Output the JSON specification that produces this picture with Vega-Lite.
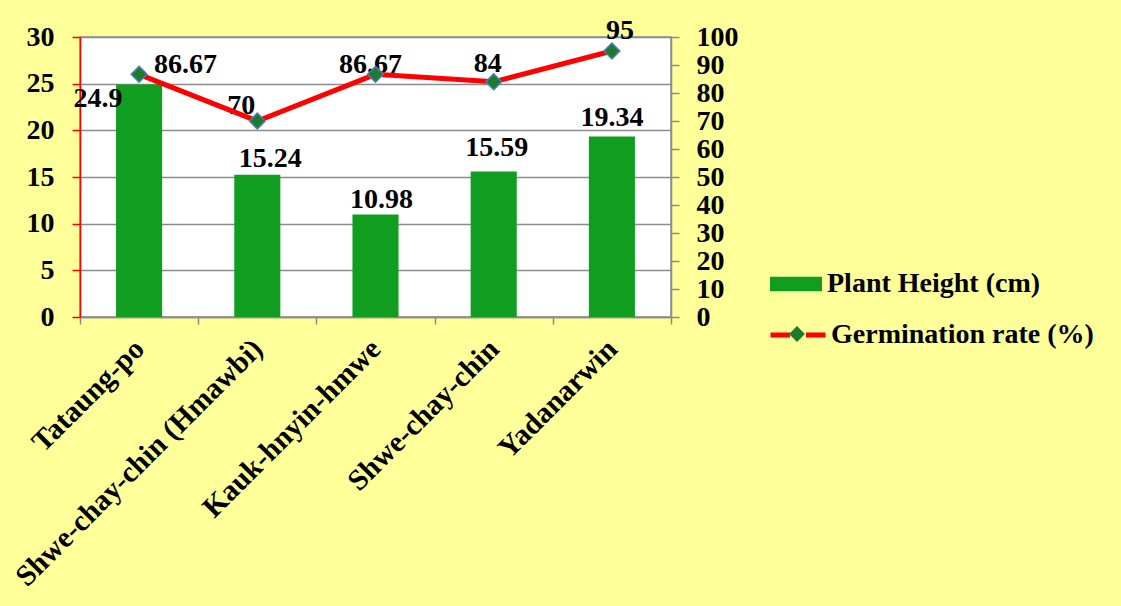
{
  "$schema": "https://vega.github.io/schema/vega-lite/v6.json",
  "width": 591,
  "height": 280,
  "autosize": {"type": "none"},
  "padding": {"left": 80, "top": 37, "right": 450, "bottom": 289},
  "background": "#ffff99",
  "data": {
    "values": [
      {"variety": "Tataung-po", "height": 24.9, "germination": 86.67},
      {"variety": "Shwe-chay-chin (Hmawbi)", "height": 15.24, "germination": 70},
      {"variety": "Kauk-hnyin-hmwe", "height": 10.98, "germination": 86.67},
      {"variety": "Shwe-chay-chin", "height": 15.59, "germination": 84},
      {"variety": "Yadanarwin", "height": 19.34, "germination": 95}
    ]
  },
  "encoding": {
    "x": {
      "field": "variety",
      "type": "nominal",
      "sort": null,
      "scale": {"paddingInner": 0, "paddingOuter": 0},
      "axis": {
        "title": null,
        "grid": false,
        "tickBand": "extent",
        "labelAngle": -45,
        "labelAlign": "right",
        "labelBaseline": "middle",
        "labelPadding": 20,
        "labelFontSize": 29.5,
        "labelLimit": 0,
        "labelOverlap": false,
        "domainColor": "#8c8c8c",
        "tickColor": "#8c8c8c",
        "tickSize": 7
      }
    }
  },
  "layer": [
    {
      "encoding": {
        "y": {
          "field": "height",
          "type": "quantitative",
          "scale": {"domain": [0, 30], "nice": false},
          "axis": {
            "orient": "left",
            "title": null,
            "values": [0, 5, 10, 15, 20, 25, 30],
            "grid": true,
            "gridColor": "#8c8c8c",
            "gridWidth": 1.5,
            "domainColor": "#ff0000",
            "tickColor": "#ff0000",
            "tickSize": 8,
            "labelPadding": 18,
            "labelOverlap": false
          }
        }
      },
      "layer": [
        {
          "mark": {"type": "bar", "color": "#119e20", "width": {"band": 0.39}},
          "encoding": {
            "color": {
              "datum": "Plant Height (cm)",
              "scale": {"domain": ["Plant Height (cm)"], "range": ["#119e20"]},
              "legend": {
                "title": null,
                "orient": "none",
                "legendX": 690,
                "legendY": 221,
                "symbolType": "M-1,-0.28H1V0.28H-1Z",
                "symbolSize": 2704,
                "symbolStrokeWidth": 0,
                "labelOffset": 5,
                "labelLimit": 0
              }
            }
          }
        },
        {
          "transform": [{"filter": "datum.variety === 'Tataung-po'"}],
          "mark": {"type": "text", "align": "center", "baseline": "alphabetic", "dx": -41, "dy": 22},
          "encoding": {"text": {"field": "height", "type": "quantitative"}}
        },
        {
          "transform": [{"filter": "datum.variety === 'Shwe-chay-chin (Hmawbi)'"}],
          "mark": {"type": "text", "align": "center", "baseline": "alphabetic", "dx": 13, "dy": -8},
          "encoding": {"text": {"field": "height", "type": "quantitative"}}
        },
        {
          "transform": [{"filter": "datum.variety === 'Kauk-hnyin-hmwe'"}],
          "mark": {"type": "text", "align": "center", "baseline": "alphabetic", "dx": 6, "dy": -7},
          "encoding": {"text": {"field": "height", "type": "quantitative"}}
        },
        {
          "transform": [{"filter": "datum.variety === 'Shwe-chay-chin'"}],
          "mark": {"type": "text", "align": "center", "baseline": "alphabetic", "dx": 3, "dy": -15},
          "encoding": {"text": {"field": "height", "type": "quantitative"}}
        },
        {
          "transform": [{"filter": "datum.variety === 'Yadanarwin'"}],
          "mark": {"type": "text", "align": "center", "baseline": "alphabetic", "dx": 0, "dy": -10},
          "encoding": {"text": {"field": "height", "type": "quantitative"}}
        }
      ]
    },
    {
      "encoding": {
        "y": {
          "field": "germination",
          "type": "quantitative",
          "scale": {"domain": [0, 100], "nice": false},
          "axis": {
            "orient": "right",
            "title": null,
            "values": [0, 10, 20, 30, 40, 50, 60, 70, 80, 90, 100],
            "grid": false,
            "domainColor": "#8c8c8c",
            "tickColor": "#8c8c8c",
            "tickSize": 8,
            "labelPadding": 17,
            "labelOverlap": false
          }
        }
      },
      "layer": [
        {
          "transform": [{"filter": "datum.variety === 'Tataung-po'"}],
          "mark": {"type": "text", "align": "left", "baseline": "alphabetic", "dx": 15, "dy": -1},
          "encoding": {"text": {"field": "germination", "type": "quantitative"}}
        },
        {
          "transform": [{"filter": "datum.variety === 'Shwe-chay-chin (Hmawbi)'"}],
          "mark": {"type": "text", "align": "right", "baseline": "alphabetic", "dx": -2, "dy": -7},
          "encoding": {"text": {"field": "germination", "type": "quantitative"}}
        },
        {
          "transform": [{"filter": "datum.variety === 'Kauk-hnyin-hmwe'"}],
          "mark": {"type": "text", "align": "center", "baseline": "alphabetic", "dx": -5, "dy": -1},
          "encoding": {"text": {"field": "germination", "type": "quantitative"}}
        },
        {
          "transform": [{"filter": "datum.variety === 'Shwe-chay-chin'"}],
          "mark": {"type": "text", "align": "center", "baseline": "alphabetic", "dx": -6, "dy": -10},
          "encoding": {"text": {"field": "germination", "type": "quantitative"}}
        },
        {
          "transform": [{"filter": "datum.variety === 'Yadanarwin'"}],
          "mark": {"type": "text", "align": "center", "baseline": "alphabetic", "dx": 8, "dy": -12},
          "encoding": {"text": {"field": "germination", "type": "quantitative"}}
        },
        {
          "mark": {"type": "line", "strokeWidth": 5},
          "encoding": {
            "stroke": {
              "datum": "Germination rate (%)",
              "scale": {"domain": ["Germination rate (%)"], "range": ["#ff0000"]},
              "legend": {
                "title": null,
                "orient": "none",
                "legendX": 688,
                "legendY": 268,
                "symbolType": "M-1,0H-0.29M0.29,0H1",
                "symbolSize": 3025,
                "symbolStrokeWidth": 5,
                "symbolFillColor": "transparent",
                "labelOffset": 3,
                "labelLimit": 0
              }
            }
          }
        },
        {
          "mark": {"type": "point", "filled": true, "fill": "#1e7b2d", "stroke": "#4a7ebb", "strokeWidth": 1.5, "size": 250, "opacity": 1},
          "encoding": {
            "shape": {
              "datum": "Germination marker",
              "scale": {"domain": ["Germination marker"], "range": ["diamond"]},
              "legend": {
                "title": null,
                "orient": "none",
                "legendX": 703,
                "legendY": 283,
                "symbolSize": 250,
                "symbolFillColor": "#1e7b2d",
                "symbolStrokeColor": "#4a7ebb",
                "symbolStrokeWidth": 1.5,
                "symbolOpacity": 1,
                "labelExpr": "''"
              }
            }
          }
        }
      ]
    }
  ],
  "resolve": {"scale": {"y": "independent"}},
  "config": {
    "font": "Liberation Serif",
    "view": {"fill": "white", "stroke": "#8c8c8c", "strokeWidth": 1.5},
    "axis": {
      "labelFont": "Liberation Serif",
      "labelFontSize": 28,
      "labelFontWeight": "bold",
      "labelColor": "black",
      "domainWidth": 1.5,
      "tickWidth": 1.5
    },
    "legend": {
      "labelFont": "Liberation Serif",
      "labelFontSize": 28,
      "labelFontWeight": "bold",
      "labelColor": "black",
      "labelLimit": 0,
      "padding": 0
    },
    "text": {"font": "Liberation Serif", "fontSize": 28, "fontWeight": "bold", "color": "black"}
  }
}
